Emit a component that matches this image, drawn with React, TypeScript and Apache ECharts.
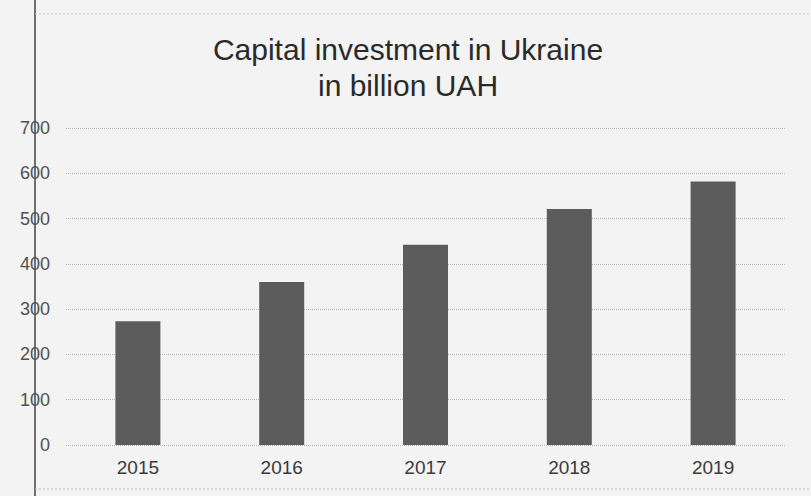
import React, { useEffect, useRef } from "react";
import * as echarts from "echarts";

const years = ["2015", "2016", "2017", "2018", "2019"];
const investment = [273, 360, 442, 521, 582];
const yTicks = { min: 0, max: 700, interval: 100 };
const titleLines = ["Capital investment in Ukraine", "in billion UAH"];

export default function App() {
  const ref = useRef<HTMLDivElement>(null);
  useEffect(() => {
    document.body.style.margin = "0";
    const chart = echarts.init(ref.current!, null, { renderer: "svg" });
    chart.setOption({
      animation: false,
      backgroundColor: "#f3f3f3",
      title: {
        text: titleLines.join("\n"),
        left: 403,
        top: 26,
        textAlign: "center",
        textStyle: {
          fontFamily: "Liberation Sans",
          fontWeight: "normal",
          fontSize: 30,
          lineHeight: 36,
          color: "#2a2a2a",
        },
      },
      grid: { left: 66, right: 26, top: 128, bottom: 51, containLabel: false },
      xAxis: {
        type: "category",
        data: years,
        axisLine: { show: false },
        axisTick: { show: false },
        axisLabel: {
          margin: 13,
          fontFamily: "Liberation Sans",
          fontSize: 19,
          color: "#3a3a3a",
        },
      },
      yAxis: {
        type: "value",
        min: yTicks.min,
        max: yTicks.max,
        interval: yTicks.interval,
        axisLine: { show: false },
        axisTick: { show: false },
        axisLabel: {
          margin: 16,
          fontFamily: "Liberation Sans",
          fontSize: 18,
          color: "#505050",
        },
        splitLine: { lineStyle: { color: "#b8b8b8", type: "dotted", width: 1 } },
      },
      series: [
        {
          type: "bar",
          data: investment,
          barWidth: 45,
          itemStyle: { color: "#5c5c5c" },
        },
      ],
      graphic: [
        { type: "line", shape: { x1: 35, y1: 0, x2: 35, y2: 496 }, style: { stroke: "#444", lineWidth: 1.5 } },
        { type: "line", shape: { x1: 35, y1: 14, x2: 811, y2: 14 }, style: { stroke: "#c8c8c8", lineWidth: 1, lineDash: [2, 2] } },
        { type: "line", shape: { x1: 35, y1: 489, x2: 811, y2: 489 }, style: { stroke: "#bdbdbd", lineWidth: 1, lineDash: [2, 2] } },
      ],
    });
    return () => chart.dispose();
  }, []);
  return <div ref={ref} style={{ width: 811, height: 496 }} />;
}
